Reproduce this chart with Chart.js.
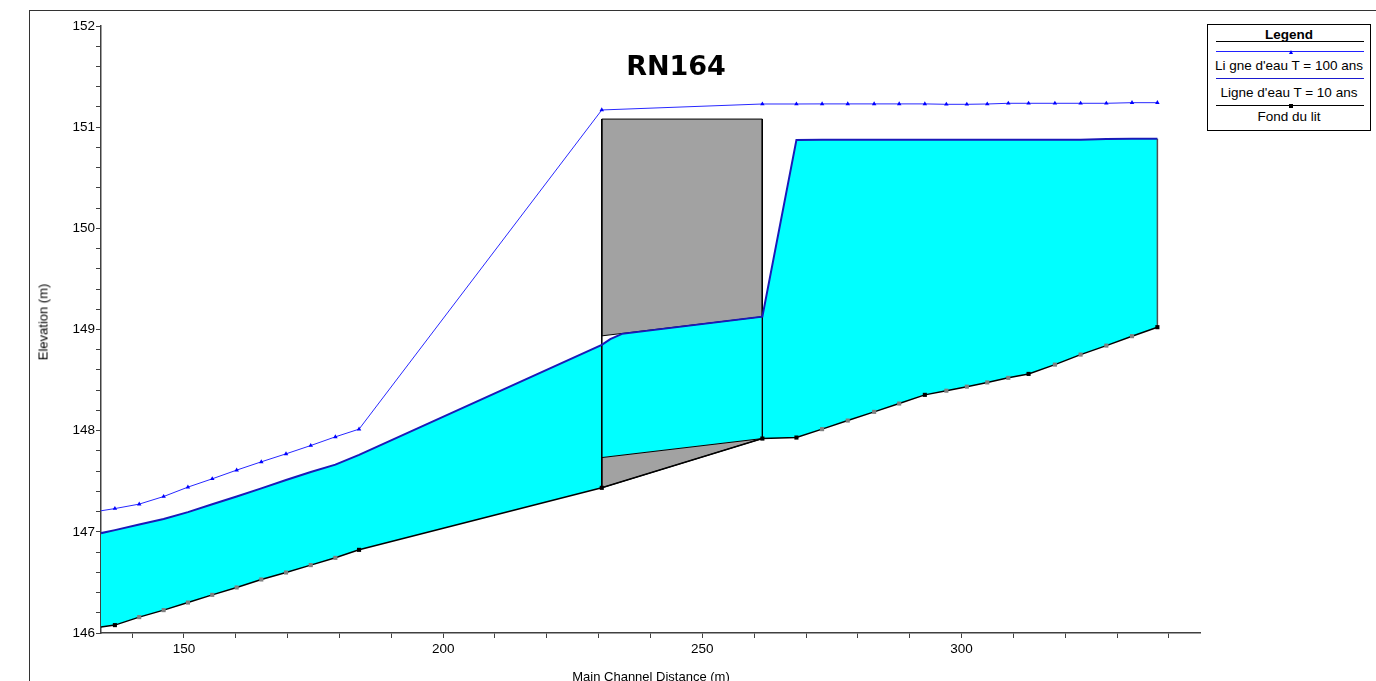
<!DOCTYPE html>
<html><head><meta charset="utf-8">
<script src="https://cdn.jsdelivr.net/npm/chart.js@4.4.1/dist/chart.umd.min.js"></script>
<style>
html,body{margin:0;padding:0;background:#fff;}
#wrap{position:relative;width:1376px;height:681px;overflow:hidden;font-family:"Liberation Sans",Arial,sans-serif;color:#000;}
#frame{position:absolute;left:29px;top:10px;width:1400px;height:700px;border-left:1px solid #333;border-top:1px solid #333;}
canvas{position:absolute;left:0;top:0;}
.ctr{position:absolute;transform:translate(-50%,-50%);white-space:nowrap;}
#title{left:676px;top:65px;font:bold 27px "DejaVu Sans",sans-serif;}
#ytitle{left:43px;top:322px;transform:translate(-50%,-50%) rotate(-90deg);font-size:13px;}
#xtitle{left:651px;top:676px;font-size:13px;}
#legend{position:absolute;left:1207px;top:24px;width:162px;height:105px;border:1px solid #000;background:#fff;font-size:13.5px;}
#legend .t{position:absolute;left:0;width:100%;text-align:center;transform:translateY(-50%);white-space:nowrap;}
#legend .l{position:absolute;left:8px;width:148px;height:0;}
#legend .m{position:absolute;transform:translate(-50%,-50%);}
</style></head>
<body><div id="wrap">
<div id="frame"></div>
<canvas id="c" width="1376" height="681" style="width:1376px;height:681px"></canvas>
<div id="title" class="ctr">RN164</div>
<div id="ytitle" class="ctr">Elevation (m)</div>
<div id="xtitle" class="ctr">Main Channel Distance (m)</div>
<div id="legend">
  <div class="t" style="top:9px;font-weight:bold;">Legend</div>
  <div class="l" style="top:16px;border-top:1px solid #000;"></div>
  <div class="l" style="top:26px;border-top:1px solid #2020ff;"></div>
  <div class="m" style="left:83px;top:26.5px;width:0;height:0;border-left:2.5px solid transparent;border-right:2.5px solid transparent;border-bottom:4px solid #0000ff;"></div>
  <div class="t" style="top:40px;">Li gne d'eau T = 100 ans</div>
  <div class="l" style="top:53px;border-top:1.5px solid #1a1ad0;"></div>
  <div class="t" style="top:67px;">Ligne d'eau T = 10 ans</div>
  <div class="l" style="top:80px;border-top:1.5px solid #000;"></div>
  <div class="m" style="left:83px;top:80.7px;width:4px;height:4px;background:#000;"></div>
  <div class="t" style="top:90.5px;">Fond du lit</div>
</div>
</div>
<script>
// ---- data ----
const stations = [134, 136.68, 141.37, 146.08, 150.77, 155.46, 160.17, 164.92, 169.69, 174.46, 179.21, 183.78,
  230.6, 261.58, 268.15, 273.1, 278.05, 283.14, 287.97, 292.92, 297.07, 301.02, 304.96, 309.02, 312.93,
  318.01, 322.97, 327.93, 332.88, 337.78];
const ground = [146.058, 146.078, 146.157, 146.226, 146.301, 146.377, 146.45, 146.529, 146.598, 146.671, 146.743, 146.822,
  147.435, 147.922, 147.932, 148.015, 148.1, 148.186, 148.268, 148.354, 148.395, 148.435, 148.477, 148.522, 148.561,
  148.653, 148.752, 148.841, 148.934, 149.023];
const ws10 = [146.987, 147.017, 147.072, 147.127, 147.195, 147.272, 147.349, 147.43, 147.512, 147.592, 147.664, 147.76,
  148.848, 149.127, 150.874, 150.875, 150.875, 150.875, 150.875, 150.875, 150.875, 150.875, 150.875, 150.875, 150.875,
  150.875, 150.876, 150.884, 150.886, 150.886];
const ws100 = [147.208, 147.23, 147.274, 147.349, 147.442, 147.524, 147.61, 147.692, 147.771, 147.853, 147.939, 148.015,
  151.17, 151.229, 151.229, 151.23, 151.23, 151.23, 151.23, 151.23, 151.226, 151.226, 151.229, 151.236, 151.236,
  151.236, 151.236, 151.236, 151.242, 151.242];
const mainSections = [136.68, 183.78, 230.6, 261.58, 268.15, 292.92, 312.93, 337.78];
const bridgeStations = [230.6, 261.58];
const deckTop = [151.08, 151.08];
const deckBottom = [148.937, 149.127];
const openingBottom = [147.734, 147.922];
const bridgeWsStations = [232.24, 234.5];
const bridgeWs = [148.904, 148.957];
const xRange = [134, 346];
const xTickValues = [140, 150, 160, 170, 180, 190, 200, 210, 220, 230, 240, 250, 260, 270, 280, 290, 300, 310, 320, 330, 340];
const xTickLabels = [150, 200, 250, 300];
const yRange = [146, 152];
const yTickValues = [146, 146.2, 146.4, 146.6, 146.8, 147, 147.2, 147.4, 147.6, 147.8, 148, 148.2, 148.4, 148.6, 148.8,
  149, 149.2, 149.4, 149.6, 149.8, 150, 150.2, 150.4, 150.6, 150.8, 151, 151.2, 151.4, 151.6, 151.8, 152];
const yTickLabels = [146, 147, 148, 149, 150, 151, 152];

// ---- build datasets ----
const pts = (xs, ys) => xs.map((x, i) => ({x, y: ys[i]}));
const ws10Line = [];
stations.forEach((x, i) => {
  ws10Line.push({x, y: ws10[i]});
  if (x === bridgeStations[0]) bridgeWsStations.forEach((bx, j) => ws10Line.push({x: bx, y: bridgeWs[j]}));
});
const lower = [];
for (let i = stations.length - 1; i >= 0; i--) {
  const x = stations[i];
  if (x === bridgeStations[0]) lower.push({x, y: openingBottom[0]});
  lower.push({x, y: ground[i]});
}
const wetPoly = ws10Line.concat(lower);
const b0 = bridgeStations[0], b1 = bridgeStations[1];
const gAt = x => ground[stations.indexOf(x)];
const deckPoly = [{x: b0, y: deckTop[0]}, {x: b1, y: deckTop[1]}, {x: b1, y: deckBottom[1]}, {x: b0, y: deckBottom[0]}, {x: b0, y: deckTop[0]}];
const sillPoly = [{x: b0, y: openingBottom[0]}, {x: b1, y: openingBottom[1]}, {x: b0, y: gAt(b0)}, {x: b0, y: openingBottom[0]}];
const last = stations.length - 1;

const base = {pointRadius: 0, tension: 0, fill: false};
const datasets = [
  {...base, data: wetPoly, fill: 'shape', backgroundColor: '#00ffff', borderColor: 'rgba(0,0,0,0)', borderWidth: 0, order: 10},
  {...base, data: deckPoly, fill: 'shape', backgroundColor: '#a2a2a2', borderColor: '#000', borderWidth: 1, order: 9},
  {...base, data: sillPoly, fill: 'shape', backgroundColor: '#a2a2a2', borderColor: '#000', borderWidth: 1, order: 8},
  {...base, data: [{x: b0, y: deckTop[0]}, {x: b0, y: gAt(b0)}], borderColor: '#000', borderWidth: 1, order: 7},
  {...base, data: [{x: b1, y: deckTop[1]}, {x: b1, y: gAt(b1)}], borderColor: '#000', borderWidth: 1, order: 7},
  {...base, data: [{x: stations[last], y: ws10[last]}, {x: stations[last], y: ground[last]}], borderColor: '#505050', borderWidth: 1.5, order: 7},
  {...base, data: ws10Line, borderColor: '#1a1ab8', borderWidth: 2, order: 5},
  {...base, data: pts(stations, ground), borderColor: '#000', borderWidth: 1.5, order: 4,
    pointStyle: 'rect', pointRadius: stations.map((x, i) => i === 0 ? 0 : 2.9), pointBorderWidth: 0,
    pointBackgroundColor: stations.map(x => mainSections.includes(x) ? '#000' : '#808080')},
  {...base, data: pts(stations, ws100), borderColor: '#2828ff', borderWidth: 1, order: 3,
    pointStyle: 'triangle', pointRadius: stations.map((x, i) => i === 0 ? 0 : 2.6), pointBorderWidth: 0,
    pointBackgroundColor: '#0000ff'}
];

const tickFont = {family: 'Liberation Sans', size: 13.5};
const near = (arr, v) => arr.some(a => Math.abs(a - v) < 1e-6);
new Chart(document.getElementById('c'), {
  type: 'line',
  data: {datasets},
  options: {
    responsive: false, animation: false, events: [],
    layout: {padding: {left: 0, top: 26, right: 176, bottom: 0}},
    plugins: {legend: {display: false}, tooltip: {enabled: false}},
    scales: {
      x: {
        type: 'linear', min: xRange[0], max: xRange[1], bounds: 'data',
        afterBuildTicks: s => { s.ticks = xTickValues.map(v => ({value: v})); },
        ticks: {autoSkip: false, maxRotation: 0, padding: 3, color: '#000', font: tickFont,
          callback: v => near(xTickLabels, v) ? String(Math.round(v)) : ''},
        grid: {drawOnChartArea: false, drawTicks: true, tickLength: 5, tickColor: '#404040', tickWidth: 1},
        border: {display: true, color: '#404040', width: 1.5},
        afterFit: s => { s.height = 48; }
      },
      y: {
        type: 'linear', min: yRange[0], max: yRange[1], bounds: 'data',
        afterBuildTicks: s => { s.ticks = yTickValues.map(v => ({value: v})); },
        ticks: {autoSkip: false, padding: 1, color: '#000', font: tickFont,
          callback: v => near(yTickLabels, v) ? String(Math.round(v)) : ''},
        grid: {drawOnChartArea: false, drawTicks: true, tickLength: 5, tickColor: '#404040', tickWidth: 1},
        border: {display: true, color: '#404040', width: 1.5},
        afterFit: s => { s.width = 101; }
      }
    }
  }
});
</script>
</body></html>
